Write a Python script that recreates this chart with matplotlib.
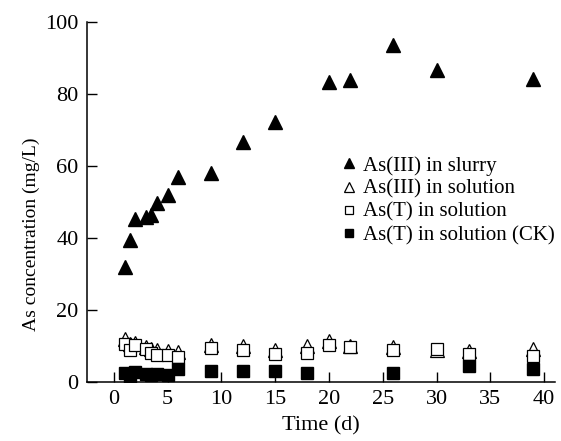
import matplotlib.pyplot as plt

plt.rcParams['font.family'] = 'Liberation Serif'

# Datos
t_slurry = [1, 1.5, 2, 3, 3.5, 4, 5, 6, 9, 12, 15, 20, 22, 26, 30, 39]
as3_slurry = [32, 39.4, 45.2, 45.7, 46.4, 49.6, 51.9, 57, 58.1, 66.8, 72.3, 83.4, 83.9, 93.6, 86.7, 84.1]

t_sol = [1, 1.5, 2, 3, 3.5, 4, 5, 6, 9, 12, 15, 18, 20, 22, 26, 30, 33, 39]
as3_sol = [11.8, 10.5, 10.8, 9.8, 9.2, 8.8, 8.5, 8.2, 10.2, 10, 9, 10, 11.5, 10, 9.8, 9, 8.7, 9.1]
ast_sol = [10.5, 9, 10.3, 9.2, 8, 7.5, 7.5, 7, 9.4, 9, 7.8, 8.1, 10.2, 9.8, 8.8, 9.2, 7.8, 7.2]

t_ck = [1, 1.5, 2, 3, 3.5, 4, 5, 6, 9, 12, 15, 18, 26, 33, 39]
ast_ck = [2.5, 1.5, 2.8, 2.2, 1.8, 2.2, 1.8, 3.5, 2.9, 2.9, 2.9, 2.6, 2.6, 4.4, 3.5]

xticks = [0, 5, 10, 15, 20, 25, 30, 35, 40]
yticks = [0, 20, 40, 60, 80, 100]

fig = plt.figure(figsize=(5.61, 4.41), dpi=100)
ax = fig.add_axes([0.155, 0.134, 0.834, 0.816])

ax.plot(t_slurry, as3_slurry, '^', color='black', markersize=10.5, linestyle='none',
        label='As(III) in slurry')
ax.plot(t_sol, as3_sol, '^', markerfacecolor='white', markeredgecolor='black', markersize=10,
        markeredgewidth=0.9, linestyle='none', label='As(III) in solution')
ax.plot(t_sol, ast_sol, 's', markerfacecolor='white', markeredgecolor='black', markersize=8,
        markeredgewidth=0.9, linestyle='none', label='As(T) in solution')
ax.plot(t_ck, ast_ck, 's', color='black', markersize=8.5, linestyle='none',
        label='As(T) in solution (CK)')

ax.set_xlim(-2.5, 41)
ax.set_ylim(0, 100)
ax.set_xticks(xticks)
ax.set_yticks(yticks)
ax.tick_params(direction='in', length=7, width=1, labelsize=16, pad=6)
for s in ['top', 'right']:
    ax.spines[s].set_visible(False)
for s in ['left', 'bottom']:
    ax.spines[s].set_linewidth(1.1)

ax.set_xlabel('Time (d)', fontsize=16, labelpad=5)
ax.set_ylabel('As concentration (mg/L)', fontsize=14)
ax.yaxis.set_label_coords(-0.1, 0.41)

ax.legend(loc='upper left', bbox_to_anchor=(0.59, 0.67), bbox_transform=fig.transFigure,
          frameon=False, fontsize=15, handlelength=0.7, handletextpad=0.35,
          labelspacing=0.17, markerscale=0.75, borderpad=0)

plt.savefig('out.png', dpi=100)
